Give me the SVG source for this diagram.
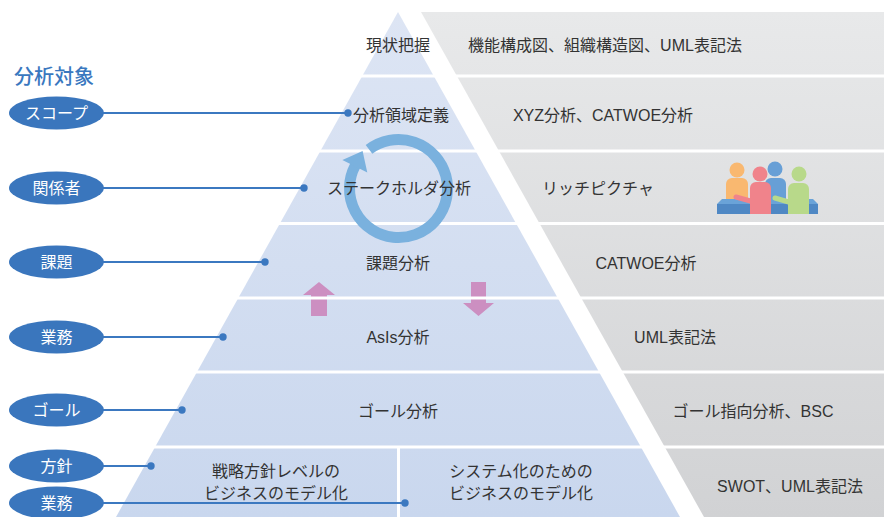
<svg xmlns="http://www.w3.org/2000/svg" width="884" height="517" viewBox="0 0 884 517">
  <style>
    text { font-family: "Liberation Sans", "Noto Sans CJK JP", sans-serif; }
    .lvl { font-size: 16px; fill: #333; text-anchor: middle; }
    .tool { font-size: 16px; fill: #333; text-anchor: middle; }
    .tag ellipse { fill: #3a76bd; }
    .tag text { font-size: 16px; fill: #fff; text-anchor: middle; }
    .sep { fill: #fff; }
    .link line { stroke: #3b78c0; stroke-width: 2; }
    .link circle { fill: #3b78c0; }
    .move { fill: #cc8fc1; }
  </style>
  <defs>
    <linearGradient id="pyrFill" x1="0" y1="0" x2="0" y2="1">
      <stop offset="0" stop-color="#dde5f4"/>
      <stop offset="1" stop-color="#c9d7ee"/>
    </linearGradient>
    <linearGradient id="toolFill" x1="0" y1="0" x2="0" y2="1">
      <stop offset="0" stop-color="#e8e9ea"/>
      <stop offset="1" stop-color="#d1d2d4"/>
    </linearGradient>
  </defs>

  <rect width="884" height="517" fill="#fff"/>

  <!-- pyramid of analysis levels and the band of techniques beside it -->
  <polygon points="398,12 680,517 116,517" fill="url(#pyrFill)"/>
  <polygon points="421,12 884,12 884,517 704,517" fill="url(#toolFill)"/>

  <!-- up / down movement between levels -->
  <g id="moves">
    <polygon class="move" points="319,282 335,295 327,295 327,316 311,316 311,295 303,295"/>
    <polygon class="move" points="471,282 486,282 486,303 494,303 478.5,316 463,303 471,303"/>
  </g>

  <!-- white gaps between the rows -->
  <g id="separators">
    <rect class="sep" x="0" y="74.5" width="884" height="3"/>
    <rect class="sep" x="0" y="149.5" width="884" height="3"/>
    <rect class="sep" x="0" y="222" width="884" height="3"/>
    <rect class="sep" x="0" y="296.5" width="884" height="3"/>
    <rect class="sep" x="0" y="370.5" width="884" height="3"/>
    <rect class="sep" x="0" y="445.5" width="884" height="3"/>
    <rect class="sep" x="397" y="447" width="3" height="70"/>
  </g>

  <!-- iteration ring -->
  <g id="cycle">
    <path d="M369.01,149.37 A49,49 0 1 1 355.24,165.5" fill="none" stroke="#7ab1de" stroke-width="11"/>
    <polygon points="342.4,159.9 367.3,172.6 362.6,151.1" fill="#7ab1de"/>
  </g>

  <!-- pyramid levels -->
  <g id="level-current"><text class="lvl" x="398" y="51">現状把握</text></g>
  <g id="level-domain"><text class="lvl" x="401" y="121">分析領域定義</text></g>
  <g id="level-stakeholder"><text class="lvl" x="399" y="194">ステークホルダ分析</text></g>
  <g id="level-issue"><text class="lvl" x="398" y="269">課題分析</text></g>
  <g id="level-asis"><text class="lvl" x="398" y="343">AsIs分析</text></g>
  <g id="level-goal"><text class="lvl" x="398" y="417">ゴール分析</text></g>
  <g id="level-strategy">
    <text class="lvl" x="276" y="477">戦略方針レベルの</text>
    <text class="lvl" x="276" y="499">ビジネスのモデル化</text>
  </g>
  <g id="level-system">
    <text class="lvl" x="521" y="477">システム化のための</text>
    <text class="lvl" x="521" y="499">ビジネスのモデル化</text>
  </g>

  <!-- techniques per level -->
  <g id="tool-current"><text class="tool" x="605" y="51">機能構成図、組織構造図、UML表記法</text></g>
  <g id="tool-domain"><text class="tool" x="603" y="121">XYZ分析、CATWOE分析</text></g>
  <g id="tool-stakeholder">
    <text class="tool" x="598" y="194">リッチピクチャ</text>
    <!-- people around a table -->
    <g id="people">
      <circle cx="737" cy="170" r="7.5" fill="#f9b870"/>
      <rect x="726" y="178" width="22" height="28" rx="6" fill="#f9b870"/>
      <circle cx="775" cy="169" r="7.5" fill="#679fd6"/>
      <rect x="765" y="178" width="21" height="26" rx="6" fill="#679fd6"/>
      <polygon points="722,199 813,199 818,204 717,204" fill="#6aa3d8"/>
      <rect x="717" y="204" width="101" height="10" fill="#4f88c4"/>
      <line x1="736" y1="197" x2="754" y2="202" stroke="#f0838b" stroke-width="5" stroke-linecap="round"/>
      <circle cx="760" cy="174" r="7.5" fill="#f0838b"/>
      <path d="M750,214 V188 a6,6 0 0 1 6,-6 h9 a6,6 0 0 1 6,6 V214 Z" fill="#f0838b"/>
      <line x1="775" y1="198" x2="792" y2="203" stroke="#b8d98a" stroke-width="5" stroke-linecap="round"/>
      <circle cx="799" cy="174" r="7.5" fill="#b8d98a"/>
      <path d="M788,214 V189 a6,6 0 0 1 6,-6 h9 a6,6 0 0 1 6,6 V214 Z" fill="#b8d98a"/>
    </g>
  </g>
  <g id="tool-issue"><text class="tool" x="646" y="269">CATWOE分析</text></g>
  <g id="tool-asis"><text class="tool" x="675" y="343">UML表記法</text></g>
  <g id="tool-goal"><text class="tool" x="753" y="417">ゴール指向分析、BSC</text></g>
  <g id="tool-strategy"><text class="tool" x="790" y="492">SWOT、UML表記法</text></g>

  <!-- heading -->
  <text x="14" y="84" font-size="20" font-weight="500" fill="#3a78bf">分析対象</text>

  <!-- connectors from each target to its level -->
  <g id="connectors" class="link">
    <line x1="100" y1="113" x2="348" y2="113"/><circle cx="348" cy="113" r="3.7"/>
    <line x1="100" y1="188" x2="304" y2="188"/><circle cx="304" cy="188" r="3.7"/>
    <line x1="100" y1="262" x2="265" y2="262"/><circle cx="265" cy="262" r="3.7"/>
    <line x1="100" y1="337" x2="223" y2="337"/><circle cx="223" cy="337" r="3.7"/>
    <line x1="100" y1="410" x2="182" y2="410"/><circle cx="182" cy="410" r="3.7"/>
    <line x1="100" y1="466" x2="151" y2="466"/><circle cx="151" cy="466" r="3.7"/>
    <line x1="100" y1="503" x2="405" y2="503"/><circle cx="405" cy="503" r="3.7"/>
  </g>

  <!-- analysis targets -->
  <g id="target-scope" class="tag"><ellipse cx="56.5" cy="113" rx="47.5" ry="16.5"/><text x="56.5" y="119">スコープ</text></g>
  <g id="target-stakeholders" class="tag"><ellipse cx="56.5" cy="188" rx="47.5" ry="16.5"/><text x="56.5" y="194">関係者</text></g>
  <g id="target-issues" class="tag"><ellipse cx="56.5" cy="262" rx="47.5" ry="16.5"/><text x="56.5" y="268">課題</text></g>
  <g id="target-business" class="tag"><ellipse cx="56.5" cy="337" rx="47.5" ry="16.5"/><text x="56.5" y="343">業務</text></g>
  <g id="target-goal" class="tag"><ellipse cx="56.5" cy="410" rx="47.5" ry="16.5"/><text x="56.5" y="416">ゴール</text></g>
  <g id="target-policy" class="tag"><ellipse cx="56.5" cy="466" rx="47.5" ry="16.5"/><text x="56.5" y="472">方針</text></g>
  <g id="target-operations" class="tag"><ellipse cx="56.5" cy="503" rx="47.5" ry="16.5"/><text x="56.5" y="509">業務</text></g>
</svg>
